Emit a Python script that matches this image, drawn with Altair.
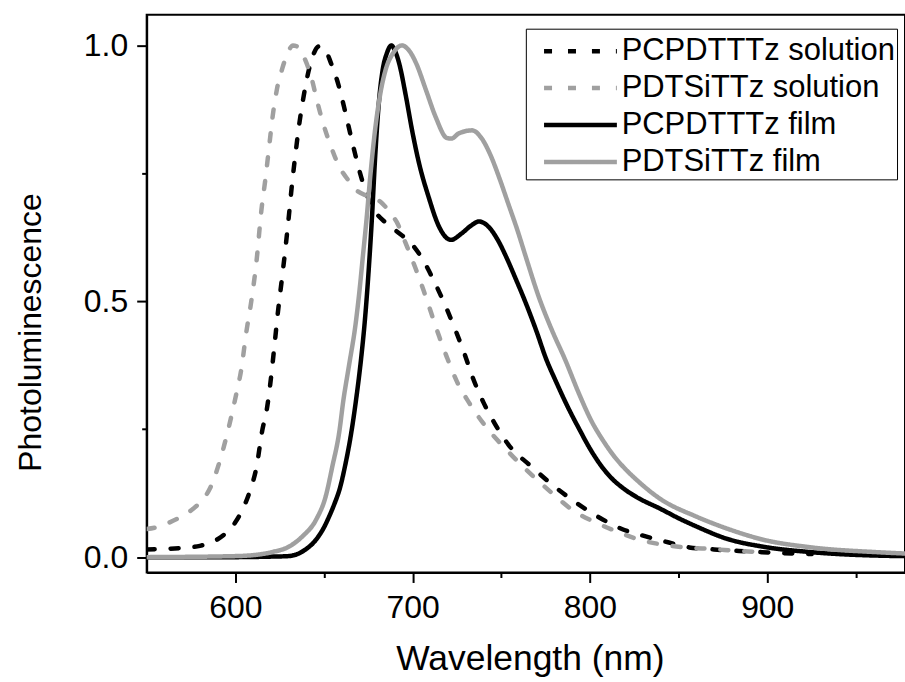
import altair as alt
import pandas as pd

series_names = ["PCPDTTTz solution", "PDTSiTTz solution", "PCPDTTTz film", "PDTSiTTz film"]
series_colors = ["#000000", "#a0a0a0", "#000000", "#a0a0a0"]
series_dashes = [[8, 16], [8, 16], [1, 0], [1, 0]]

# PCPDTTTz solution (black dashed)
pc_sol_x = [550, 560, 570, 580, 590, 595, 600, 605, 608, 612, 615, 618, 620, 622, 624, 626, 628, 630,
            632, 634, 636, 638, 641, 644, 647, 650, 654, 658, 662, 666, 670, 674, 678, 685, 692, 700,
            706, 712, 718, 724, 729, 734, 740, 746, 754, 767, 780, 792, 805, 818, 831, 844, 856, 870,
            884, 897, 908, 925]
pc_sol_y = [0.015, 0.016, 0.018, 0.022, 0.035, 0.048, 0.068, 0.10, 0.127, 0.177, 0.244, 0.294, 0.347,
            0.411, 0.478, 0.536, 0.595, 0.66, 0.73, 0.79, 0.845, 0.89, 0.945, 0.982, 0.998, 0.995, 0.965,
            0.925, 0.87, 0.81, 0.755, 0.71, 0.68, 0.653, 0.634, 0.61, 0.58, 0.54, 0.495, 0.445, 0.40,
            0.35, 0.302, 0.263, 0.22, 0.177, 0.138, 0.107, 0.078, 0.055, 0.041, 0.029, 0.019, 0.015,
            0.012, 0.0097, 0.008, 0.006]

# PDTSiTTz solution (grey dashed)
si_sol_x = [550, 555, 563, 570, 576, 581, 585.5, 591, 595.6, 600.6, 603.5, 606, 609, 612, 614.7, 617,
            619, 621, 623.5, 626.5, 629.5, 632.5, 636, 639, 643, 646, 649, 654, 658.6, 663, 668, 675,
            682, 688, 691, 696, 702, 706.4, 710.4, 715, 719.4, 725, 731.8, 741.3, 752.6, 765.5, 778,
            791, 803, 816, 827, 840, 854, 868, 885, 900]
si_sol_y = [0.055, 0.058, 0.068, 0.08, 0.094, 0.11, 0.133, 0.185, 0.244, 0.32, 0.37, 0.435, 0.50, 0.58,
            0.678, 0.74, 0.80, 0.86, 0.915, 0.955, 0.985, 1.0, 0.995, 0.975, 0.936, 0.893, 0.854,
            0.802, 0.763, 0.74, 0.718, 0.705, 0.694, 0.67, 0.655, 0.614, 0.561, 0.519, 0.478, 0.431,
            0.39, 0.343, 0.302, 0.255, 0.211, 0.166, 0.127, 0.09, 0.068, 0.049, 0.035, 0.025, 0.019,
            0.016, 0.012, 0.009]

# PCPDTTTz film (black solid)
pc_film_x = [550, 600, 620, 630, 635, 640, 644, 647, 650, 653, 656, 659, 662, 665, 668, 671, 673, 675,
             677, 679, 681, 683, 685.5, 688, 690, 692.4, 696.3, 699.7, 703.6, 709, 715, 721.6, 727.8,
             733, 737.4, 743, 748, 753, 758, 764, 770, 775, 781, 788, 794, 800, 806, 812, 819, 826, 840,
             850, 860, 878, 896.6, 925, 962, 978]
pc_film_y = [0.0, 0.0, 0.001, 0.002, 0.006, 0.016, 0.028, 0.041, 0.058, 0.08, 0.105, 0.135, 0.18, 0.235,
             0.305, 0.39, 0.46, 0.55, 0.66, 0.79, 0.89, 0.95, 0.985, 1.0, 0.99, 0.965, 0.899, 0.834,
             0.77, 0.704, 0.645, 0.62, 0.633, 0.648, 0.656, 0.645, 0.62, 0.585, 0.545, 0.495, 0.44,
             0.39, 0.342, 0.29, 0.25, 0.212, 0.18, 0.155, 0.134, 0.118, 0.094, 0.076, 0.06, 0.035,
             0.021, 0.0097, 0.003, 0.002]

# PDTSiTTz film (grey solid)
si_film_x = [550, 600, 615, 621, 630.5, 638, 645.7, 651, 654.7, 658.6, 661, 664, 668, 670, 672, 674,
             676, 679, 682, 685, 689, 694, 698, 702, 707.6, 713, 719.4, 722, 726, 733.5, 739, 744,
             749, 754, 759, 764, 771, 778.5, 786, 794, 801, 807, 813, 820, 826, 840, 859.5, 878, 896.6,
             925, 962, 978]
si_film_y = [0.0, 0.002, 0.006, 0.01, 0.021, 0.041, 0.074, 0.119, 0.177, 0.244, 0.308, 0.372, 0.46,
             0.52, 0.59, 0.66, 0.74, 0.84, 0.91, 0.955, 0.985, 1.0, 0.99, 0.965, 0.912, 0.86, 0.819,
             0.818, 0.828, 0.834, 0.818, 0.785, 0.74, 0.69, 0.64, 0.585, 0.51, 0.444, 0.386, 0.318,
             0.265, 0.23, 0.2, 0.172, 0.152, 0.113, 0.08, 0.055, 0.035, 0.019, 0.0097, 0.007]

x_major = [600, 700, 800, 900]
x_minor = [650, 750, 850, 950]
y_major = [0.0, 0.5, 1.0]
y_minor = [0.25, 0.75]

rows = []
for name, xs, ys in [(series_names[0], pc_sol_x, pc_sol_y),
                     (series_names[1], si_sol_x, si_sol_y),
                     (series_names[2], pc_film_x, pc_film_y),
                     (series_names[3], si_film_x, si_film_y)]:
    for xv, yv in zip(xs, ys):
        rows.append({"series": name, "wl": xv, "pl": yv})
df = pd.DataFrame(rows)

FONT = "Liberation Sans"
x_scale = alt.Scale(domain=[550, 977.7], nice=False, zero=False)
y_scale = alt.Scale(domain=[-0.03, 1.06], nice=False, zero=False)

legend = alt.Legend(
    title=None, orient="none", legendX=380, legendY=14,
    symbolType="M-1,0H3", symbolSize=1332, symbolStrokeWidth=4.5, symbolOffset=14,
    labelFont=FONT, labelFontSize=31, labelColor="black", labelOffset=39, labelLimit=0,
    strokeColor="black", fillColor="white", padding=2, rowPadding=1,
)

lines = alt.Chart(df).mark_line(strokeWidth=4.5, strokeCap="round", interpolate="monotone", clip=True).encode(
    x=alt.X("wl:Q", scale=x_scale,
            axis=alt.Axis(values=x_major, title="Wavelength (nm)", orient="bottom",
                          titleX=384, titleY=97, titleBaseline="alphabetic", titleAlign="center",
                          titleFontSize=35.5, labelPadding=10, tickSize=10, labelFlush=False)),
    y=alt.Y("pl:Q", scale=y_scale,
            axis=alt.Axis(values=y_major, format=".1f", title="Photoluminescence", orient="left",
                          titleX=-106, titleY=318, titleAngle=270, titleBaseline="alphabetic",
                          titleAlign="center", titleFontSize=32, labelPadding=9, tickSize=10)),
    color=alt.Color("series:N", scale=alt.Scale(domain=series_names, range=series_colors), legend=legend),
    strokeDash=alt.StrokeDash("series:N", scale=alt.Scale(domain=series_names, range=series_dashes), legend=legend),
)

minor = alt.Chart(df).mark_line(opacity=0).encode(
    x=alt.X("wl:Q", scale=x_scale,
            axis=alt.Axis(values=x_minor, labels=False, domain=False, title=None, tickSize=5, orient="bottom")),
    y=alt.Y("pl:Q", scale=y_scale,
            axis=alt.Axis(values=y_minor, labels=False, domain=False, title=None, tickSize=5, orient="left")),
)

chart = alt.layer(lines, minor).resolve_axis(x="independent", y="independent").properties(
    width=760, height=559,
    padding={"left": 147, "top": 14, "right": 0, "bottom": 109},
    autosize=alt.AutoSizeParams(type="none"),
    background="white",
).configure_view(
    stroke="black", strokeWidth=2
).configure_axis(
    grid=False, domainColor="black", domainWidth=2, tickColor="black", tickWidth=2,
    labelFont=FONT, labelFontSize=32, labelColor="black",
    titleFont=FONT, titleFontWeight="normal", titleColor="black",
)

chart.save("out.html", embed_options={"renderer": "svg", "actions": False})
